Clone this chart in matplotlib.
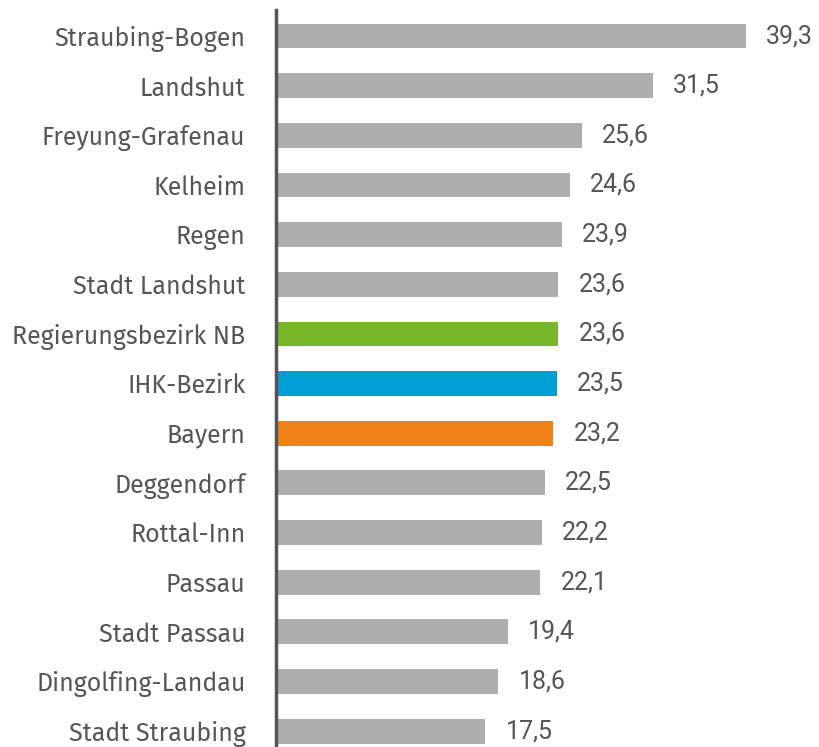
import matplotlib
matplotlib.use("Agg")
import matplotlib.pyplot as plt

categories = ["Straubing-Bogen", "Landshut", "Freyung-Grafenau", "Kelheim", "Regen",
              "Stadt Landshut", "Regierungsbezirk NB", "IHK-Bezirk", "Bayern",
              "Deggendorf", "Rottal-Inn", "Passau", "Stadt Passau",
              "Dingolfing-Landau", "Stadt Straubing"]
values = [39.3, 31.5, 25.6, 24.6, 23.9, 23.6, 23.6, 23.5, 23.2,
          22.5, 22.2, 22.1, 19.4, 18.6, 17.5]
value_labels = ["39,3", "31,5", "25,6", "24,6", "23,9", "23,6", "23,6", "23,5", "23,2",
                "22,5", "22,2", "22,1", "19,4", "18,6", "17,5"]

GRAY = "#AEAEAF"
special = {"Regierungsbezirk NB": "#77B82A", "IHK-Bezirk": "#009FD4", "Bayern": "#F08217"}
colors = [special.get(c, GRAY) for c in categories]

W, H = 820, 747
fig = plt.figure(figsize=(W / 100, H / 100), dpi=100)
ax_left, ax_top, ax_bottom = 276, 10, 747
ax = fig.add_axes([ax_left / W, 0, (W - ax_left) / W, (H - ax_top) / H])

pos = list(range(len(categories)))
ax.barh(pos, values, height=0.5, color=colors)
ax.set_xlim(0, (W - ax_left) / 11.96)
ax.set_ylim(14.32, -0.524)

for p, v, lab in zip(pos, values, value_labels):
    ax.annotate(lab, xy=(v, p), xytext=(14.5, 0), textcoords="offset points",
                va="center", ha="left", fontsize=18, color="#555555",
                family="Roboto")

ax.set_yticks(pos)
ax.set_yticklabels(categories, fontsize=18, color="#555555",
                   family=["Fira Sans", "DejaVu Sans"])
ax.tick_params(axis="y", length=0, pad=22)
ax.set_xticks([])
for s in ["top", "right", "bottom"]:
    ax.spines[s].set_visible(False)
ax.spines["left"].set_color("#555555")
ax.spines["left"].set_linewidth(2.5)

fig.savefig("out.png", dpi=100)
